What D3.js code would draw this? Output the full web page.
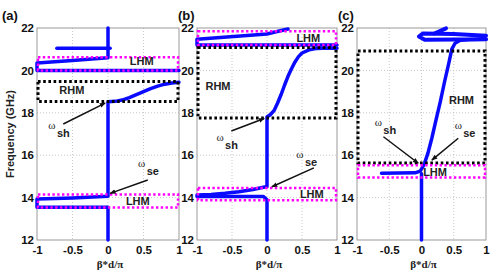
<!DOCTYPE html>
<html><head><meta charset="utf-8">
<script src="https://cdn.jsdelivr.net/npm/d3@7"></script>
<style>body{margin:0;background:#fff}svg{display:block}</style>
</head><body>
<svg id="c" width="492" height="273"></svg>
<script>
// ---------- data ----------
const panelNames = ["(a)", "(b)", "(c)"];
const xTicks = [-1, -0.5, 0, 0.5, 1];
const xTickLabels = ["-1", "-0.5", "0", "0.5", "1"];
const yTicks = [12, 14, 16, 18, 20, 22];
const yTickLabels = ["12", "14", "16", "18", "20", "22"];
const xTitle = "β*d/π";
const yTitle = "Frequency (GHz)";

// panel (a) dispersion branches  [beta*d/pi, GHz]
const aBranch1 = [[0,12],[0,13.55],[-1,13.55],[-1,13.93],[-0.5,13.98],[0,14.06],[0,18.52],
  [0.1,18.54],[0.2,18.6],[0.3,18.72],[0.4,18.86],[0.5,19.0],[0.6,19.14],[0.7,19.26],[0.8,19.35],[0.9,19.41],[1,19.44]];
const aBranch2 = [[1,20.0],[-1,20.0],[-1,20.35],[-0.5,20.47],[0,20.6],[0,22]];
const aBranch3 = [[-0.72,21.05],[0.03,21.05]];
const aRHM = [[18.53, 19.48]];
const aLHM = [[20.0, 20.62], [13.53, 14.15]];

// panel (b)
const bBranch1 = [[0,12],[0,13.9],[-0.05,14.05],[-1,14.05]];
const bBranch2 = [[-1,14.12],[-0.8,14.15],[-0.6,14.2],[-0.4,14.28],[-0.2,14.38],[0,14.52],[0,17.8],
  [0.05,17.92],[0.1,18.1],[0.15,18.45],[0.2,18.85],[0.25,19.3],[0.3,19.72],[0.35,20.08],[0.4,20.4],
  [0.45,20.65],[0.5,20.82],[0.6,20.97],[0.7,21.03],[0.8,21.05],[1,21.05]];
const bBranch3 = [[1,21.2],[-1,21.2],[-1,21.47],[0,21.72],[0.1,21.8],[0.3,21.95]];
const bRHM = [[17.75, 21.08]];
const bLHM = [[21.2, 21.85], [13.88, 14.45]];

// panel (c)
const cBranch1 = [[0,12],[0,15.12]];
const cBranch2 = [[-0.62,15.15],[-0.1,15.17],[-0.02,15.25],[0.02,15.45],[0.05,15.65],[0.1,16.1],[0.16,16.8],
  [0.22,17.6],[0.29,18.5],[0.36,19.5],[0.42,20.3],[0.47,21.0],[0.52,21.28],[0.6,21.42],[0.75,21.46],[1,21.47]];
const cBranch3 = [[1,21.47],[0.05,21.45],[-0.04,21.6],[0.02,21.74],[0.5,21.72],[1,21.64]];
const cBranch4 = [[0.2,21.74],[0.38,21.98]];
const cRHM = [[15.63, 20.92]];
const cLHM = [[14.95, 15.53]];

// labels [text, beta, GHz]
const aLabels = [["LHM",0.475,20.44],["RHM",-0.51,19.07],["LHM",0.42,13.84]];
const bLabels = [["LHM",0.59,21.51],["RHM",-0.7,19.26],["LHM",0.64,14.16]];
const cLabels = [["RHM",0.62,18.6],["LHM",0.21,15.22]];
// omega annotations [sub, omegaX, omegaY, arrowFromX, arrowFromY, arrowToX, arrowToY]
const aOmega = [["sh",-0.79,17.42,-0.63,17.47,-0.04,18.46],["se",0.475,15.62,0.56,14.83,0.03,14.2]];
const bOmega = [["sh",-0.67,16.87,-0.51,17.14,-0.04,17.73],["se",0.47,16.06,0.67,15.4,0.07,14.51]];
const cOmega = [["sh",-0.67,17.58,-0.59,16.87,-0.05,15.62],["se",0.57,17.42,0.57,16.8,0.16,15.77]];

// ---------- drawing ----------
const svg = d3.select("#c");
const font = "'Liberation Sans', Arial, sans-serif";
svg.append("defs").append("marker").attr("id","ah").attr("viewBox","0 0 10 10")
  .attr("refX",9).attr("refY",5).attr("markerWidth",6).attr("markerHeight",6)
  .attr("orient","auto").attr("markerUnits","userSpaceOnUse")
  .append("path").attr("d","M0,1 L10,5 L0,9 Z").attr("fill","#111");

const geom = [
  {x0:37, x1:179, lx:2}, {x0:197, x1:337, lx:178}, {x0:357, x1:486, lx:338}
];
const yTop = 28, yBot = 240;
const panelData = [
  {branches:[aBranch1,aBranch2,aBranch3], thick:[], rhm:aRHM, lhm:aLHM, labels:aLabels, omega:aOmega},
  {branches:[bBranch1,bBranch2,bBranch3], thick:[], rhm:bRHM, lhm:bLHM, labels:bLabels, omega:bOmega},
  {branches:[cBranch1,cBranch2], thick:[cBranch3,cBranch4], rhm:cRHM, lhm:cLHM, labels:cLabels, omega:cOmega}
];

panelData.forEach((pd, i) => {
  const g = geom[i];
  const x = d3.scaleLinear().domain([-1,1]).range([g.x0, g.x1]);
  const y = d3.scaleLinear().domain([12,22]).range([yBot, yTop]);
  const p = svg.append("g");

  // grid
  p.append("g").selectAll("line").data(xTicks.slice(1,-1)).join("line")
    .attr("x1",d=>x(d)).attr("x2",d=>x(d)).attr("y1",yTop).attr("y2",yBot)
    .attr("stroke","#bbb").attr("stroke-width",0.8).attr("stroke-dasharray","1,2");
  p.append("g").selectAll("line").data(yTicks.slice(1,-1)).join("line")
    .attr("y1",d=>y(d)).attr("y2",d=>y(d)).attr("x1",g.x0).attr("x2",g.x1)
    .attr("stroke","#bbb").attr("stroke-width",0.8).attr("stroke-dasharray","1,2");
  // frame
  p.append("rect").attr("x",g.x0).attr("y",yTop).attr("width",g.x1-g.x0).attr("height",yBot-yTop)
    .attr("fill","none").attr("stroke","#999").attr("stroke-width",1);

  // axes (labels only)
  const xa = d3.axisBottom(x).tickValues(xTicks).tickFormat((d,k)=>xTickLabels[k]).tickSize(0).tickPadding(6);
  const ya = d3.axisLeft(y).tickValues(yTicks).tickFormat((d,k)=>yTickLabels[k]).tickSize(0).tickPadding(3);
  const gx = p.append("g").attr("transform",`translate(0,${yBot})`).call(xa);
  const gy = p.append("g").attr("transform",`translate(${g.x0},0)`).call(ya);
  [gx,gy].forEach(a=>{a.select(".domain").remove();
    a.selectAll("text").attr("font-family",font).attr("font-size",11.5).attr("font-weight","bold").attr("fill","#111");});

  const line = d3.line().x(d=>x(d[0])).y(d=>y(d[1])).curve(d3.curveLinear);

  // blue branches
  pd.branches.forEach(b => p.append("path").attr("d",line(b)).attr("fill","none")
    .attr("stroke","#0a0aff").attr("stroke-width",3.5).attr("stroke-linejoin","round").attr("stroke-linecap","round"));
  pd.thick.forEach(b => p.append("path").attr("d",line(b)).attr("fill","none")
    .attr("stroke","#0a0aff").attr("stroke-width",4).attr("stroke-linejoin","round").attr("stroke-linecap","round"));

  // RHM / LHM boxes
  pd.rhm.forEach(r => p.append("rect").attr("x",x(-1)+1).attr("width",x(1)-x(-1)-2)
    .attr("y",y(r[1])).attr("height",y(r[0])-y(r[1])).attr("fill","none")
    .attr("stroke","#000").attr("stroke-width",3).attr("stroke-dasharray","2.6,2.6"));
  pd.lhm.forEach(r => p.append("rect").attr("x",x(-1)+1).attr("width",x(1)-x(-1)-2)
    .attr("y",y(r[1])).attr("height",y(r[0])-y(r[1])).attr("fill","none")
    .attr("stroke","#f0f").attr("stroke-width",2.5).attr("stroke-dasharray","2.4,2.4"));

  // labels
  pd.labels.forEach(l => p.append("text").attr("x",x(l[1])).attr("y",y(l[2])).attr("dy","0.35em")
    .attr("text-anchor","middle").attr("font-family",font).attr("font-weight","bold").attr("font-size",11)
    .attr("fill","#222").text(l[0]));

  // omega annotations
  pd.omega.forEach(o => {
    p.append("line").attr("x1",x(o[3])).attr("y1",y(o[4])).attr("x2",x(o[5])).attr("y2",y(o[6]))
      .attr("stroke","#111").attr("stroke-width",1.5).attr("marker-end","url(#ah)");
    p.append("text").attr("x",x(o[1])).attr("y",y(o[2])).attr("dy","0.35em").attr("text-anchor","middle")
      .attr("font-family","'Liberation Serif', serif").attr("font-size",11).attr("fill","#222").text("ω");
    p.append("text").attr("x",x(o[1])+5).attr("y",y(o[2])+8).attr("dy","0.35em").attr("text-anchor","start")
      .attr("font-family",font).attr("font-weight","bold").attr("font-size",11).attr("fill","#222").text(o[0]);
  });

  // x title
  p.append("text").attr("x",(g.x0+g.x1)/2+2).attr("y",268).attr("text-anchor","middle")
    .attr("font-family","'Liberation Serif', serif").attr("font-weight","bold").attr("font-size",11)
    .attr("fill","#222").text(xTitle);
  // panel name
  p.append("text").attr("x",g.lx).attr("y",20).attr("font-family",font)
    .attr("font-weight","bold").attr("font-size",13).attr("fill","#111").text(panelNames[i]);
});

svg.append("text").attr("transform","translate(14,134) rotate(-90)").attr("text-anchor","middle")
  .attr("font-family",font).attr("font-weight","bold").attr("font-size",11).attr("fill","#222").text(yTitle);
</script>
</body></html>
